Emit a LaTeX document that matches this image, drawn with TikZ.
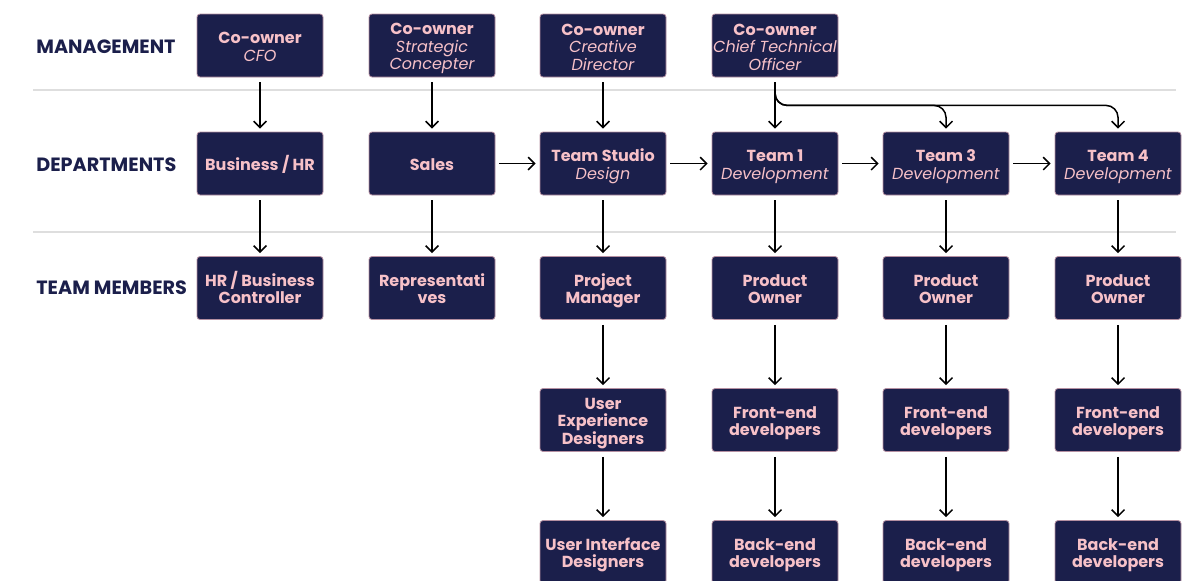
\documentclass[tikz,border=0pt]{standalone}
\usepackage{fontspec}
\setmainfont{Poppins}
\usetikzlibrary{arrows.meta}
\definecolor{navy}{RGB}{27,31,75}
\definecolor{rose}{RGB}{247,193,200}
\definecolor{rule}{RGB}{222,222,222}
\definecolor{rowlabel}{RGB}{27,31,75}
\tikzset{
  px/.style={x=0.5pt,y=-0.5pt},
  unit/.style={draw=rose!70!navy, line width=0.4pt, fill=navy, text=rose,
    rounded corners=1.5pt, minimum width=63pt, minimum height=31.5pt,
    inner sep=0pt, align=center,
    execute at end node={\rule[-2pt]{0pt}{2pt}},
    font=\fontsize{8}{8.75}\selectfont\bfseries},
  rowname/.style={anchor=west, text=rowlabel, inner sep=0pt,
    font=\fontsize{9.6}{11}\selectfont\bfseries},
  link/.style={line width=0.75pt, -{Straight Barb[length=3.2pt,width=6.4pt,line width=0.75pt]}},
  sep/.style={draw=rule, line width=1pt}
}
% top strut for the first line of each box, so all boxes centre alike
\newcommand{\firstln}{\rule{0pt}{9pt}}
\newcommand{\sub}[1]{{\normalfont\itshape #1}}
\begin{document}
\begin{tikzpicture}[px]
\useasboundingbox (0,0) rectangle (1186,580);

% horizontal rules between the levels
\draw[sep] (33,90) -- (1176,90);
\draw[sep] (33,232) -- (1176,232);

% level captions
\node[rowname] (lmgmt) at (36,47) {MANAGEMENT};
\node[rowname] (ldept) at (36,165) {DEPARTMENTS};
\node[rowname] (lteam) at (36,288) {TEAM MEMBERS};

% management
\node[unit] (cfo) at (260,45.5) {\firstln Co-owner\\\sub{CFO}};
\node[unit] (strat) at (432,45.5) {\firstln Co-owner\\\sub{Strategic}\\\sub{Concepter}};
\node[unit] (creat) at (603,45.5) {\firstln Co-owner\\\sub{Creative}\\\sub{Director}};
\node[unit] (cto) at (775,45.5) {\firstln Co-owner\\\sub{Chief Technical}\\\sub{Officer}};

% departments
\node[unit] (biz) at (260,163.5) {\firstln Business / HR};
\node[unit] (sales) at (432,163.5) {\firstln Sales};
\node[unit] (studio) at (603,163.5) {\firstln Team Studio\\\sub{Design}};
\node[unit] (t1) at (775,163.5) {\firstln Team 1\\\sub{Development}};
\node[unit] (t3) at (946,163.5) {\firstln Team 3\\\sub{Development}};
\node[unit] (t4) at (1118,163.5) {\firstln Team 4\\\sub{Development}};

% team members
\node[unit] (hrc) at (260,288) {\firstln HR / Business\\Controller};
\node[unit] (reps) at (432,288) {\firstln Representati\\ves};
\node[unit] (pm) at (603,288) {\firstln Project\\Manager};
\node[unit] (po1) at (775,288) {\firstln Product\\Owner};
\node[unit] (po3) at (946,288) {\firstln Product\\Owner};
\node[unit] (po4) at (1118,288) {\firstln Product\\Owner};

\node[unit] (ux) at (603,420) {\firstln User\\Experience\\Designers};
\node[unit] (fe1) at (775,420) {\firstln Front-end\\developers};
\node[unit] (fe3) at (946,420) {\firstln Front-end\\developers};
\node[unit] (fe4) at (1118,420) {\firstln Front-end\\developers};

\node[unit] (ui) at (603,552) {\firstln User Interface\\Designers};
\node[unit] (be1) at (775,552) {\firstln Back-end\\developers};
\node[unit] (be3) at (946,552) {\firstln Back-end\\developers};
\node[unit] (be4) at (1118,552) {\firstln Back-end\\developers};

% vertical reporting lines
\foreach \a/\b in {cfo/biz, strat/sales, creat/studio, cto/t1,
                   biz/hrc, sales/reps, studio/pm, t1/po1, t3/po3, t4/po4,
                   pm/ux, po1/fe1, po3/fe3, po4/fe4,
                   ux/ui, fe1/be1, fe3/be3, fe4/be4}
  \draw[link] ([yshift=-2.5pt]\a.south) -- ([yshift=1.5pt]\b.north);

% workflow between departments
\foreach \a/\b in {sales/studio, studio/t1, t1/t3, t3/t4}
  \draw[link] ([xshift=2pt]\a.east) -- ([xshift=-2pt]\b.west);

% technical officer also oversees teams 3 and 4
\coordinate (bend) at ([yshift=-14pt]cto.south);
\draw[link, rounded corners=6pt] ([yshift=-2.5pt]cto.south) -- (bend) -| ([yshift=1.5pt]t3.north);
\draw[link, rounded corners=6pt] ([yshift=-2.5pt]cto.south) -- (bend) -| ([yshift=1.5pt]t4.north);
\end{tikzpicture}
\end{document}
